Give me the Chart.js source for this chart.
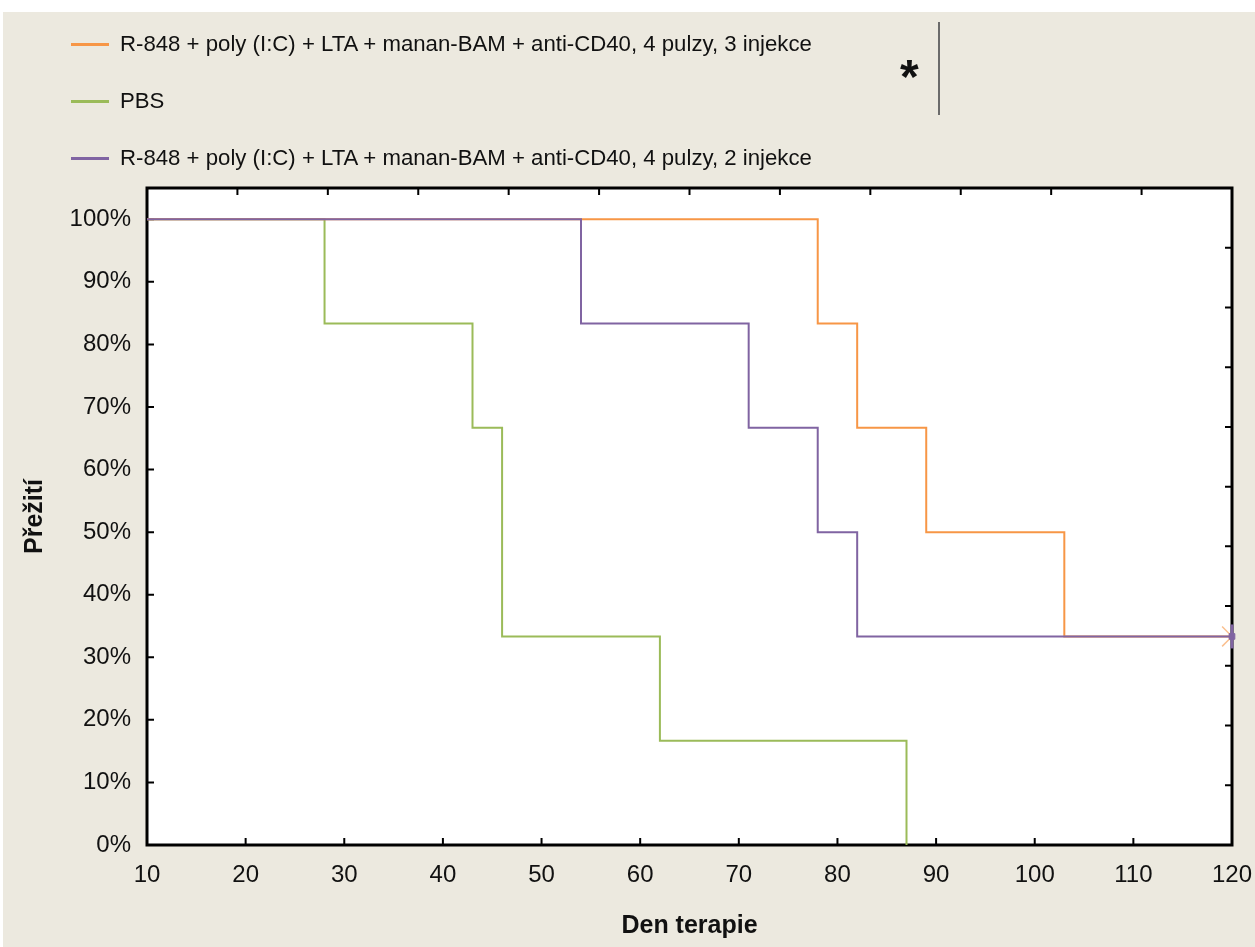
<!DOCTYPE html>
<html lang="cs">
<head>
<meta charset="utf-8">
<title>Přežití – Den terapie</title>
<script src="https://cdn.jsdelivr.net/npm/chart.js@4.4.1/dist/chart.umd.min.js"></script>
<style>
  html, body { margin: 0; padding: 0; background: #fff; }
  body { width: 1255px; height: 947px; position: relative; overflow: hidden;
         font-family: 'Liberation Sans', Arial, sans-serif; }
  .panel { position: absolute; left: 3px; top: 12px; width: 1252px; height: 935px; background: #ECE9DF; }
  #km-chart { position: absolute; left: 0; top: 0; }
  .leg-row { position: absolute; left: 71px; height: 24px; display: flex; align-items: center; font-size: 22.2px; color: #111; white-space: nowrap; }
  .leg-line { width: 38px; height: 3px; margin-right: 11px; }
  .star { position: absolute; left: 900px; top: 53px; font-size: 48px; font-weight: bold; line-height: 1; color: #111; }
  .sep { position: absolute; left: 938px; top: 22px; width: 2px; height: 93px; background: #6b6b6b; }
</style>
</head>
<body>
<div class="panel"></div>
<canvas id="km-chart" width="1255" height="947"></canvas>
<div id="legend"></div>
<div class="star">*</div>
<div class="sep"></div>

<script>
/* ---- data ---- */
const seriesNames = [
  'R-848 + poly (I:C) + LTA + manan-BAM + anti-CD40, 4 pulzy, 3 injekce',
  'PBS',
  'R-848 + poly (I:C) + LTA + manan-BAM + anti-CD40, 4 pulzy, 2 injekce'
];
const seriesColors = ['#F79646', '#9BBB59', '#8064A2'];

// days of events (first point = start of plot), survival in %
const inj3Days = [10, 78, 82, 89, 103, 120];
const inj3Surv = [100, 83.33, 66.67, 50, 33.33, 33.33];
const pbsDays = [10, 28, 43, 46, 62, 87];
const pbsSurv = [100, 83.33, 66.67, 33.33, 16.67, 0];
const inj2Days = [10, 54, 71, 78, 82, 120];
const inj2Surv = [100, 83.33, 66.67, 50, 33.33, 33.33];

// censored at end of follow-up
const censorDay = [120];
const censorSurv = [33.33];

const xTicks = [10, 20, 30, 40, 50, 60, 70, 80, 90, 100, 110, 120];
const yTicks = [0, 10, 20, 30, 40, 50, 60, 70, 80, 90, 100];

/* ---- legend ---- */
const legendTops = [32, 89, 146];
document.getElementById('legend').innerHTML = seriesNames.map((n, i) => `
  <div class="leg-row" style="top:${legendTops[i]}px">
    <div class="leg-line" style="background:${seriesColors[i]}"></div><span>${n}</span>
  </div>`).join('');

const pts = (xs, ys) => xs.map((x, i) => ({ x, y: ys[i] }));
const lastOnly = (arr, v, other) => arr.map((_, i) => i === arr.length - 1 ? v : other);

Chart.defaults.font.family = "'Liberation Sans', Arial, sans-serif";
Chart.defaults.color = '#111';

// white plot area, frame and inward ticks on all four sides
const frame = {
  id: 'frame',
  beforeDatasetsDraw(chart) {
    const { ctx, chartArea: a, scales } = chart;
    ctx.save();
    ctx.fillStyle = '#fff';
    ctx.fillRect(a.left, a.top, a.right - a.left, a.bottom - a.top);
    ctx.strokeStyle = '#000';
    ctx.lineWidth = 2;
    const len = 7;
    ctx.beginPath();
    scales.x.ticks.forEach(t => {
      const px = scales.x.getPixelForValue(t.value);
      if (px <= a.left + 1 || px >= a.right - 1) return;
      ctx.moveTo(px, a.bottom); ctx.lineTo(px, a.bottom - len);
    });
    scales.x2.ticks.forEach(t => {
      const px = scales.x2.getPixelForValue(t.value);
      if (px <= a.left + 1 || px >= a.right - 1) return;
      ctx.moveTo(px, a.top); ctx.lineTo(px, a.top + len);
    });
    scales.y.ticks.forEach(t => {
      const py = scales.y.getPixelForValue(t.value);
      if (py <= a.top + 1 || py >= a.bottom - 1) return;
      ctx.moveTo(a.left, py); ctx.lineTo(a.left + len, py);
    });
    scales.y2.ticks.forEach(t => {
      const py = scales.y2.getPixelForValue(t.value);
      if (py <= a.top + 1 || py >= a.bottom - 1) return;
      ctx.moveTo(a.right, py); ctx.lineTo(a.right - len, py);
    });
    ctx.stroke();
    ctx.lineWidth = 3;
    ctx.strokeRect(a.left, a.top, a.right - a.left, a.bottom - a.top);
    ctx.restore();
  }
};

const lineDs = (label, days, surv, color, order, endStyle, endRadius) => ({
  label,
  data: pts(days, surv),
  borderColor: color,
  backgroundColor: color,
  borderWidth: 2,
  stepped: 'before',
  fill: false,
  order,
  clip: false,
  pointRadius: lastOnly(days, endRadius, 0),
  pointStyle: endStyle,
  pointBorderWidth: 1,
  pointHoverRadius: 0
});

new Chart(document.getElementById('km-chart'), {
  type: 'line',
  data: {
    datasets: [
      lineDs(seriesNames[0], inj3Days, inj3Surv, seriesColors[0], 2, 'crossRot', 0),
      lineDs(seriesNames[1], pbsDays, pbsSurv, seriesColors[1], 3, false, 0),
      lineDs(seriesNames[2], inj2Days, inj2Surv, seriesColors[2], 1, 'rect', 4),
      {
        label: 'censor-3inj',
        data: pts(censorDay, censorSurv),
        showLine: false, order: 4,
        pointStyle: 'crossRot', pointRadius: 14, pointBorderWidth: 1.5,
        borderColor: '#FAC090', backgroundColor: '#FAC090'
      },
      {
        label: 'censor-2inj',
        data: pts(censorDay, censorSurv),
        showLine: false, clip: false, order: 0,
        pointStyle: 'line', rotation: 90, pointRadius: 12, pointBorderWidth: 3,
        borderColor: seriesColors[2], backgroundColor: seriesColors[2]
      }
    ]
  },
  options: {
    responsive: false,
    animation: false,
    events: [],
    layout: { padding: { top: 188, right: 0, left: 0, bottom: 0 } },
    plugins: { legend: { display: false }, tooltip: { enabled: false } },
    scales: {
      x: {
        type: 'linear', position: 'bottom', min: 10, max: 120,
        afterBuildTicks: s => { s.ticks = xTicks.map(v => ({ value: v })); },
        afterFit: s => { s.height = 102; s.paddingLeft = 0; s.paddingRight = 0; },
        grid: { display: false, drawTicks: false },
        border: { display: false },
        ticks: { padding: 16, font: { size: 24 }, color: '#111', maxRotation: 0 },
        title: { display: true, text: 'Den terapie', font: { size: 25, weight: 'bold' }, color: '#111', padding: { top: 0, bottom: 6 } }
      },
      y: {
        type: 'linear', position: 'left', min: 0, max: 105,
        afterBuildTicks: s => { s.ticks = yTicks.map(v => ({ value: v })); },
        afterFit: s => { s.width = 147; s.paddingTop = 0; s.paddingBottom = 0; },
        grid: { display: false, drawTicks: false },
        border: { display: false },
        ticks: { padding: 16, font: { size: 24 }, color: '#111', callback: v => v + '%' },
        title: { display: true, text: 'Přežití', font: { size: 25, weight: 'bold' }, color: '#111', padding: { top: 20, bottom: 0 } }
      },
      x2: {
        type: 'linear', position: 'top', min: 0, max: 12,
        ticks: { display: false, stepSize: 1 },
        afterFit: s => { s.height = 0; s.paddingLeft = 0; s.paddingRight = 0; },
        grid: { display: false, drawTicks: false },
        border: { display: false }
      },
      y2: {
        type: 'linear', position: 'right', min: 0, max: 11,
        ticks: { display: false, stepSize: 1 },
        afterFit: s => { s.width = 23; s.paddingTop = 0; s.paddingBottom = 0; },
        grid: { display: false, drawTicks: false },
        border: { display: false }
      }
    }
  },
  plugins: [frame]
});
</script>
</body>
</html>
